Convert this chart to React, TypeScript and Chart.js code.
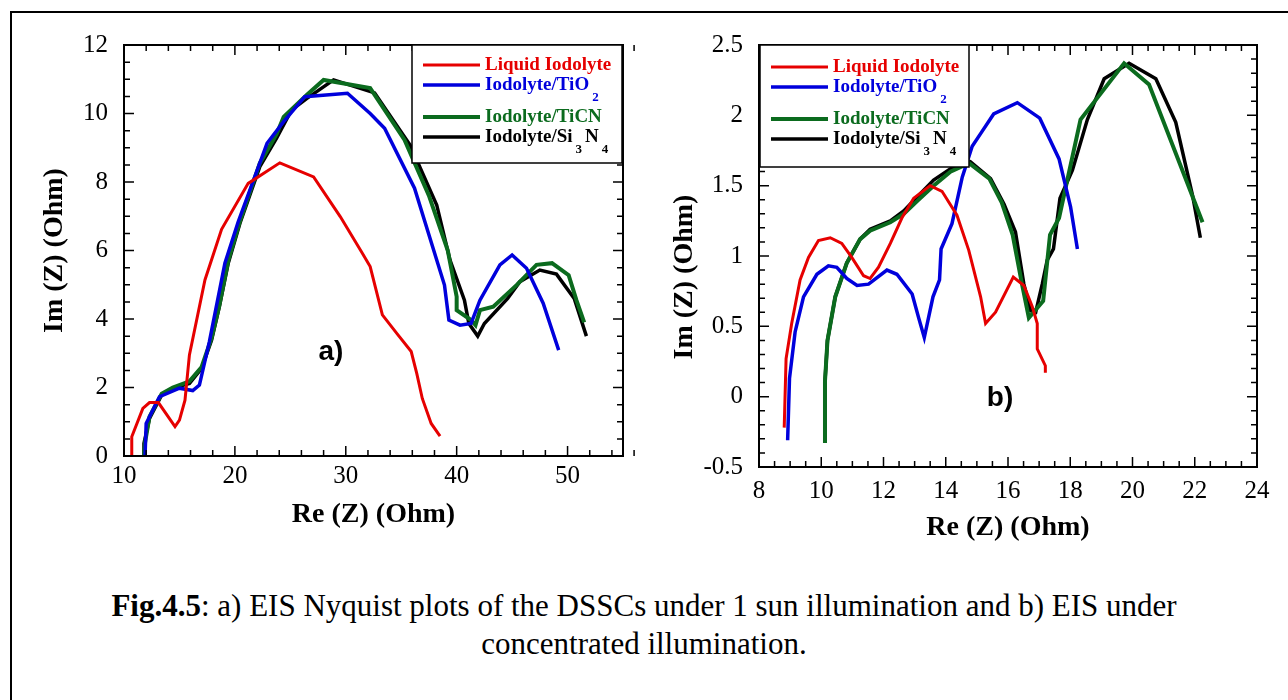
import React, { useEffect, useRef } from "react";
import { Chart, registerables } from "chart.js";

Chart.register(...registerables);

// ---------- Series meta ----------
const SERIES_LABELS = ["Liquid Iodolyte", "Iodolyte/TiO2", "Iodolyte/TiCN", "Iodolyte/Si3N4"];
const SERIES_COLORS = ["#e60000", "#0000dc", "#0b6b1e", "#000000"];
const SERIES_WIDTHS = [3, 3.5, 4, 3.5];

// ---------- Panel a) : 1 sun illumination ----------
const A_LIQUID_RE = [10.7, 10.7, 11.7, 12.3, 13.1, 14.6, 15.0, 15.5, 15.9, 17.3, 18.8, 21.2, 24.05, 27.1, 29.5, 31.4, 32.2, 33.3, 34.6, 35.9, 36.4, 36.9, 37.7, 38.5];
const A_LIQUID_IM = [0, 0.56, 1.39, 1.56, 1.56, 0.86, 1.05, 1.63, 2.95, 5.14, 6.62, 7.96, 8.56, 8.15, 6.99, 5.97, 5.53, 4.12, 3.58, 3.05, 2.41, 1.68, 0.95, 0.58];

const A_TIO2_RE = [11.9, 12.0, 13.2, 15.0, 16.2, 16.8, 17.7, 19.1, 20.3, 22.9, 24.4, 26.3, 30.15, 32.2, 33.5, 36.2, 38.9, 39.3, 40.3, 41.3, 42.1, 43.9, 45.0, 46.3, 47.8, 49.2];
const A_TIO2_IM = [0.03, 0.95, 1.73, 1.98, 1.91, 2.07, 3.34, 5.63, 6.84, 9.13, 9.76, 10.49, 10.59, 10.0, 9.57, 7.82, 4.99, 3.97, 3.82, 3.87, 4.55, 5.58, 5.87, 5.48, 4.46, 3.09];

const A_TICN_RE = [11.8, 11.9, 12.3, 13.4, 14.4, 15.9, 17.0, 17.9, 18.6, 19.4, 20.45, 22.25, 23.76, 24.4, 26.5, 28.0, 32.2, 35.3, 37.5, 39.2, 40.0, 40.0, 41.3, 41.7, 42.1, 43.3, 45.4, 47.2, 48.6, 50.1, 50.8, 51.5];
const A_TICN_IM = [0, 0.4, 1.15, 1.82, 2.0, 2.18, 2.6, 3.45, 4.4, 5.7, 6.85, 8.55, 9.4, 9.9, 10.55, 10.98, 10.74, 9.23, 7.6, 6.0, 4.65, 4.26, 3.97, 3.82, 4.26, 4.36, 4.99, 5.58, 5.63, 5.28, 4.55, 3.9];

const A_SI3N4_RE = [11.8, 11.8, 12.3, 13.4, 14.4, 15.9, 17.0, 17.9, 18.6, 19.4, 20.45, 22.25, 23.76, 25.1, 26.5, 28.9, 32.6, 35.8, 38.2, 39.4, 40.7, 41.1, 41.9, 42.5, 44.6, 45.7, 47.5, 49.0, 50.6, 51.7];
const A_SI3N4_IM = [0, 0.37, 1.1, 1.78, 1.98, 2.12, 2.56, 3.39, 4.36, 5.63, 6.79, 8.45, 9.28, 10.1, 10.44, 10.98, 10.6, 9.08, 7.33, 5.72, 4.55, 3.87, 3.5, 3.87, 4.6, 5.09, 5.43, 5.31, 4.6, 3.5];

// ---------- Panel b) : concentrated illumination ----------
const B_LIQUID_RE = [8.81, 8.87, 9.05, 9.32, 9.59, 9.91, 10.29, 10.66, 10.98, 11.36, 11.57, 11.84, 12.22, 12.59, 12.97, 13.5, 13.88, 14.36, 14.74, 15.12, 15.28, 15.6, 16.17, 16.51, 16.78, 16.94, 16.94, 17.2, 17.2];
const B_LIQUID_IM = [-0.22, 0.27, 0.52, 0.83, 0.99, 1.11, 1.13, 1.09, 0.99, 0.86, 0.84, 0.92, 1.09, 1.27, 1.41, 1.5, 1.46, 1.29, 1.04, 0.71, 0.52, 0.6, 0.85, 0.79, 0.64, 0.52, 0.34, 0.22, 0.17];

const B_TIO2_RE = [8.92, 8.98, 9.16, 9.43, 9.86, 10.23, 10.5, 10.82, 11.15, 11.52, 12.11, 12.43, 12.92, 13.13, 13.31, 13.59, 13.8, 13.85, 14.2, 14.53, 14.85, 15.12, 15.54, 16.3, 17.02, 17.64, 18.01, 18.23];
const B_TIO2_IM = [-0.31, 0.13, 0.46, 0.71, 0.87, 0.93, 0.92, 0.84, 0.79, 0.8, 0.9, 0.87, 0.73, 0.56, 0.42, 0.71, 0.83, 1.05, 1.23, 1.56, 1.78, 1.87, 2.01, 2.09, 1.98, 1.69, 1.35, 1.05];

const B_TICN_RE = [10.12, 10.12, 10.2, 10.45, 10.82, 11.25, 11.57, 12.22, 12.65, 13.08, 13.61, 14.15, 14.75, 15.4, 15.8, 16.15, 16.45, 16.67, 17.13, 17.35, 17.64, 18.33, 19.73, 20.53, 22.25];
const B_TICN_IM = [-0.33, 0.11, 0.4, 0.71, 0.95, 1.12, 1.18, 1.24, 1.3, 1.39, 1.5, 1.6, 1.66, 1.55, 1.38, 1.15, 0.8, 0.56, 0.68, 1.15, 1.27, 1.97, 2.37, 2.22, 1.24];

const B_SI3N4_RE = [10.12, 10.12, 10.2, 10.45, 10.82, 11.25, 11.57, 12.22, 12.65, 13.08, 13.61, 14.15, 14.79, 15.44, 15.87, 16.24, 16.51, 16.73, 16.89, 17.1, 17.26, 17.46, 17.67, 18.07, 18.55, 19.09, 19.89, 20.75, 21.39, 21.93, 22.18];
const B_SI3N4_IM = [-0.33, 0.11, 0.4, 0.71, 0.95, 1.12, 1.19, 1.25, 1.32, 1.42, 1.54, 1.62, 1.67, 1.55, 1.37, 1.17, 0.8, 0.61, 0.6, 0.8, 0.97, 1.05, 1.41, 1.61, 1.97, 2.26, 2.37, 2.26, 1.95, 1.43, 1.13];

// ---------- Axes ----------
const A_X_RANGE = [10, 55];
const A_X_STEPS = [10, 2];
const A_Y_RANGE = [0, 12];
const A_Y_STEPS = [2, 0.5];
const B_X_RANGE = [8, 24];
const B_X_STEPS = [2, 0.5];
const B_Y_RANGE = [-0.5, 2.5];
const B_Y_STEPS = [0.5, 0.1];

const X_TITLE = "Re (Z) (Ohm)";
const Y_TITLE = "Im (Z) (Ohm)";

const SERIF = '"Liberation Serif", "Times New Roman", Times, serif';
const SANS = '"Liberation Sans", Arial, Helvetica, sans-serif';

function pts(re: number[], im: number[]) {
  return re.map((x, i) => ({ x, y: im[i] }));
}

const framePlugin = {
  id: "frame",
  afterDatasetsDraw(chart: any, _args: any, opts: any) {
    const ctx = chart.ctx;
    const { left, right, top, bottom } = chart.chartArea;
    const xs = chart.scales.x;
    const ys = chart.scales.y;
    ctx.save();

    // inward ticks on all four sides
    ctx.strokeStyle = "#000";
    ctx.lineWidth = 1.5;
    const tickRun = (scale: any, major: number, minor: number, horizontal: boolean) => {
      const n = Math.round((scale.max - scale.min) / minor);
      for (let i = 0; i <= n; i++) {
        const v = scale.min + i * minor;
        const r = v / major;
        const isMajor = Math.abs(r - Math.round(r)) < 1e-6;
        const len = isMajor ? 10 : 6;
        const p = scale.getPixelForValue(v);
        ctx.beginPath();
        if (horizontal) {
          ctx.moveTo(p, bottom);
          ctx.lineTo(p, bottom - len);
          ctx.moveTo(p, top);
          ctx.lineTo(p, top + len);
        } else {
          ctx.moveTo(left, p);
          ctx.lineTo(left + len, p);
          ctx.moveTo(right, p);
          ctx.lineTo(right - len, p);
        }
        ctx.stroke();
      }
    };
    tickRun(xs, opts.xSteps[0], opts.xSteps[1], true);
    tickRun(ys, opts.ySteps[0], opts.ySteps[1], false);

    // frame
    ctx.lineWidth = 2;
    ctx.strokeRect(left, top, right - left, bottom - top);

    // legend
    const lg = opts.legend;
    ctx.fillStyle = "#fff";
    ctx.fillRect(lg.x, lg.y, lg.w, lg.h);
    ctx.lineWidth = 1.5;
    ctx.strokeStyle = "#000";
    ctx.strokeRect(lg.x, lg.y, lg.w, lg.h);
    let y = lg.y + lg.first;
    chart.data.datasets.forEach((ds: any) => {
      ctx.strokeStyle = ds.borderColor;
      ctx.lineWidth = ds.borderWidth;
      ctx.beginPath();
      ctx.moveTo(lg.x + 11, y);
      ctx.lineTo(lg.x + 68, y);
      ctx.stroke();
      ctx.fillStyle = ds.borderColor;
      ctx.textBaseline = "middle";
      ctx.textAlign = "left";
      const parts = String(ds.label).split(/(\d)/).filter((s: string) => s.length > 0);
      let tx = lg.x + 73;
      let hasSub = false;
      parts.forEach((p: string) => {
        if (/^\d$/.test(p)) {
          hasSub = true;
          ctx.font = "bold 13px " + SERIF;
          tx += 3;
          ctx.fillText(p, tx, y + 13);
          tx += ctx.measureText(p).width + 3;
        } else {
          ctx.font = "bold 19px " + SERIF;
          ctx.fillText(p, tx, y);
          tx += ctx.measureText(p).width;
        }
      });
      y += hasSub ? 32 : 20;
    });

    // panel tag
    ctx.fillStyle = "#000";
    ctx.font = "bold 28px " + SANS;
    ctx.textAlign = "center";
    ctx.textBaseline = "middle";
    ctx.fillText(opts.tag.text, opts.tag.x, opts.tag.y);

    // axis titles
    ctx.font = "bold 28px " + SERIF;
    ctx.fillText(X_TITLE, (left + right) / 2, bottom + opts.xTitleOffset);
    ctx.save();
    ctx.translate(left - opts.yTitleOffset, (top + bottom) / 2 + opts.yTitleShift);
    ctx.rotate(-Math.PI / 2);
    ctx.fillText(Y_TITLE, 0, 0);
    ctx.restore();

    ctx.restore();
  },
};

function makeDatasets(list: { x: number; y: number }[][]) {
  return list.map((data, i) => ({
    label: SERIES_LABELS[i],
    data,
    borderColor: SERIES_COLORS[i],
    backgroundColor: SERIES_COLORS[i],
    borderWidth: SERIES_WIDTHS[i],
    pointRadius: 0,
    tension: 0,
    fill: false,
  }));
}

function makeConfig(p: any) {
  const tickFont = { family: SERIF, size: 25 };
  return {
    type: "line",
    data: { datasets: makeDatasets(p.series) },
    plugins: [framePlugin],
    options: {
      animation: false,
      responsive: false,
      maintainAspectRatio: false,
      layout: { padding: p.padding },
      events: [],
      plugins: {
        legend: { display: false },
        tooltip: { enabled: false },
        frame: p.frame,
      },
      scales: {
        x: {
          type: "linear",
          min: p.xRange[0],
          max: p.xRange[1],
          grid: { display: false, drawTicks: false },
          border: { display: false },
          ticks: {
            stepSize: p.xSteps[0],
            includeBounds: false,
            font: tickFont,
            color: "#000",
            padding: p.xPad,
            maxRotation: 0,
            autoSkip: false,
            callback: (v: number) => String(v),
          },
          afterFit: (s: any) => {
            s.height = p.xHeight;
          },
        },
        y: {
          type: "linear",
          min: p.yRange[0],
          max: p.yRange[1],
          grid: { display: false, drawTicks: false },
          border: { display: false },
          ticks: {
            stepSize: p.ySteps[0],
            includeBounds: false,
            font: tickFont,
            color: "#000",
            padding: p.yPad,
            autoSkip: false,
            callback: (v: number) => String(Math.round(v * 100) / 100),
          },
          afterFit: (s: any) => {
            s.width = p.yWidth;
          },
        },
      },
    },
  };
}

function Panel(props: { cfg: any; left: number; width: number; height: number }) {
  const ref = useRef<HTMLCanvasElement | null>(null);
  useEffect(() => {
    if (!ref.current) return;
    const chart = new Chart(ref.current, props.cfg);
    return () => chart.destroy();
  }, []);
  return (
    <canvas
      ref={ref}
      width={props.width}
      height={props.height}
      style={{ position: "absolute", left: props.left, top: 0, width: props.width, height: props.height }}
    />
  );
}

const cfgA = makeConfig({
  series: [pts(A_LIQUID_RE, A_LIQUID_IM), pts(A_TIO2_RE, A_TIO2_IM), pts(A_TICN_RE, A_TICN_IM), pts(A_SI3N4_RE, A_SI3N4_IM)],
  xRange: A_X_RANGE,
  yRange: A_Y_RANGE,
  xSteps: A_X_STEPS,
  ySteps: A_Y_STEPS,
  padding: { left: 0, top: 45, right: 17, bottom: 0 },
  xHeight: 104,
  yWidth: 124,
  xPad: 5,
  yPad: 16,
  frame: {
    xSteps: A_X_STEPS,
    ySteps: A_Y_STEPS,
    legend: { x: 412, y: 45, w: 210, h: 118, first: 20 },
    tag: { text: "a)", x: 331, y: 352 },
    xTitleOffset: 59,
    yTitleOffset: 69,
    yTitleShift: 0,
  },
});

const cfgB = makeConfig({
  series: [pts(B_LIQUID_RE, B_LIQUID_IM), pts(B_TIO2_RE, B_TIO2_IM), pts(B_TICN_RE, B_TICN_IM), pts(B_SI3N4_RE, B_SI3N4_IM)],
  xRange: B_X_RANGE,
  yRange: B_Y_RANGE,
  xSteps: B_X_STEPS,
  ySteps: B_Y_STEPS,
  padding: { left: 0, top: 45, right: 31, bottom: 0 },
  xHeight: 93,
  yWidth: 119,
  xPad: 9,
  yPad: 16,
  frame: {
    xSteps: B_X_STEPS,
    ySteps: B_Y_STEPS,
    legend: { x: 120, y: 45, w: 209, h: 122, first: 22 },
    tag: { text: "b)", x: 360, y: 398 },
    xTitleOffset: 61,
    yTitleOffset: 74,
    yTitleShift: 21,
  },
});

export default function App() {
  return (
    <div
      style={{
        position: "absolute",
        left: 0,
        top: 0,
        width: 1288,
        height: 700,
        overflow: "hidden",
        background: "#fff",
      }}
    >
      <div
        style={{
          position: "absolute",
          left: 10,
          top: 11,
          width: 1400,
          height: 800,
          border: "2px solid #000",
        }}
      />
      <Panel cfg={cfgA} left={0} width={640} height={560} />
      <Panel cfg={cfgB} left={640} width={648} height={560} />
      <div
        style={{
          position: "absolute",
          left: 0,
          top: 587,
          width: 1288,
          textAlign: "center",
          fontFamily: SERIF,
          fontSize: 31,
          lineHeight: "38px",
          color: "#000",
        }}
      >
        <b>Fig.4.5</b>: a) EIS Nyquist plots of the DSSCs under 1 sun illumination and b) EIS under
        <br />
        concentrated illumination.
      </div>
    </div>
  );
}
